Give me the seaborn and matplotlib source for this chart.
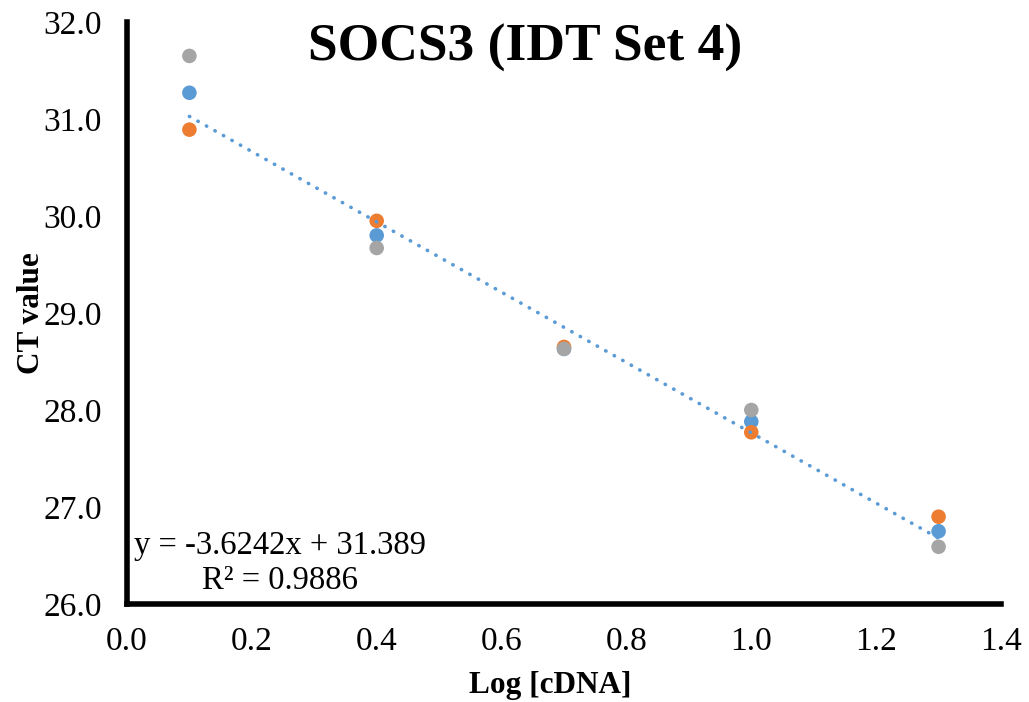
import numpy as np
import pandas as pd
import matplotlib
matplotlib.use("Agg")
import matplotlib.pyplot as plt
import seaborn as sns

# data
log_cdna = [0.1, 0.4, 0.7, 1.0, 1.3]
ct_rep1 = [31.27, 29.80, 28.63, 27.88, 26.75]   # blue
ct_rep2 = [30.89, 29.95, 28.65, 27.77, 26.90]   # orange
ct_rep3 = [31.65, 29.67, 28.63, 28.00, 26.59]   # gray
slope = -3.6242
intercept = 31.389
r_squared = 0.9886

sns.set_theme(style="white")
plt.rcParams['font.family'] = ['Liberation Serif', 'DejaVu Serif']
plt.rcParams['text.color'] = 'black'
plt.rcParams['axes.labelcolor'] = 'black'

df = pd.DataFrame({
    'Log [cDNA]': log_cdna * 3,
    'CT value': ct_rep1 + ct_rep2 + ct_rep3,
    'rep': ['1'] * 5 + ['2'] * 5 + ['3'] * 5,
})
colors = {'1': '#5B9BD5', '2': '#ED7D31', '3': '#A5A5A5'}

fig = plt.figure(figsize=(10.29, 7.02), dpi=100)
ax = fig.add_axes([0.1234, 0.1396, 0.8494, 0.8291])

sns.scatterplot(data=df, x='Log [cDNA]', y='CT value', hue='rep', palette=colors,
                s=110, edgecolor='none', legend=False, ax=ax, zorder=3)

trend = pd.DataFrame({'x': [log_cdna[0], log_cdna[-1]]})
trend['y'] = slope * trend['x'] + intercept
sns.lineplot(data=trend, x='x', y='y', color='#5B9BD5', lw=2.6,
             linestyle=(0, (0.1, 2.6)), dash_capstyle='round', ax=ax, zorder=4)

ax.set_xlim(0, 1.4)
ax.set_ylim(26, 32)
ax.set_xticks(np.arange(0, 1.41, 0.2))
ax.set_yticks(np.arange(26, 32.1, 1))
ax.xaxis.set_major_formatter(matplotlib.ticker.FormatStrFormatter('%.1f'))
ax.yaxis.set_major_formatter(matplotlib.ticker.FormatStrFormatter('%.1f'))
ax.tick_params(axis='both', length=0, labelsize=24, colors='black')
ax.tick_params(axis='y', pad=18)
ax.tick_params(axis='x', pad=16)

for side in ['top', 'right']:
    ax.spines[side].set_visible(False)
for side in ['left', 'bottom']:
    ax.spines[side].set_linewidth(4)
    ax.spines[side].set_color('black')

ax.set_xlabel('Log [cDNA]', fontsize=22.5, fontweight='bold', labelpad=10)
ax.set_ylabel('CT value', fontsize=22.5, fontweight='bold', labelpad=-2)
ax.xaxis.label.set_x(0.484)

ax.text(0.4555, 0.955, 'SOCS3 (IDT Set 4)', transform=ax.transAxes,
        ha='center', va='center', fontsize=38.5, fontweight='bold')
ax.text(0.175, 0.07, f'y = {slope}x + {intercept}\nR² = {r_squared}',
        transform=ax.transAxes, ha='center', va='center', fontsize=23.5,
        multialignment='center', linespacing=1.15)

fig.savefig('out.png', dpi=100)
